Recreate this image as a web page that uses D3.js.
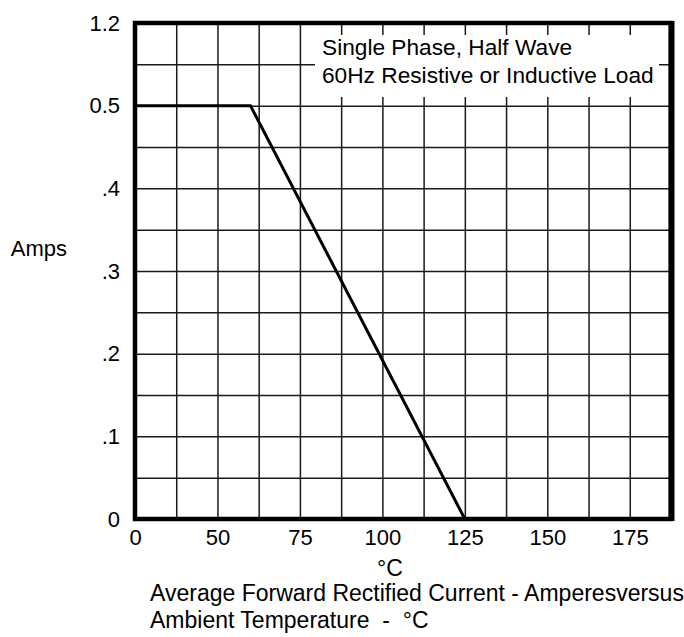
<!DOCTYPE html>
<html>
<head>
<title>Forward current derating</title>
<script src="https://cdn.jsdelivr.net/npm/d3@7"></script>
<style>
  body { margin: 0; background: #fff; }
  text { font-family: Arial, "Liberation Sans", sans-serif; font-size: 22px; fill: #000; }
  .grid line { stroke: #1a1a1a; stroke-width: 1.5; }
  .grid path { display: none; }
</style>
</head>
<body>
<div id="chart"></div>
<script>
// values
var tempC = [0, 60, 125];
var amps = [0.5, 0.5, 0];
var xTicks = [0, 50, 75, 100, 125, 150, 175];
var yTicks = [0, 0.1, 0.2, 0.3, 0.4, 0.5, 1.2];
var yTickLabels = ["0", ".1", ".2", ".3", ".4", "0.5", "1.2"];
var xGrid = [25, 50, 62.5, 75, 87.5, 100, 112.5, 125, 137.5, 150, 162.5, 175];
var yGrid = [0.05, 0.1, 0.15, 0.2, 0.25, 0.3, 0.35, 0.4, 0.45, 0.5, 0.85];
var noteLines = ["Single Phase, Half Wave", "60Hz Resistive or Inductive Load"];

var width = 684, height = 637;
var plotLeft = 135, plotRight = 671, plotTop = 23, plotBottom = 519;
var w = plotRight - plotLeft, h = plotBottom - plotTop;

// axis is broken: 0-50 squeezed into two cells, 0.5-1.2 into two cells
var x = d3.scaleLinear().domain([0, 50, 187.5]).range([plotLeft, plotLeft + 2 * w / 13, plotRight]);
var y = d3.scaleLinear().domain([0, 0.5, 1.2]).range([plotBottom, plotBottom - 10 * h / 12, plotTop]);

var svg = d3.select("#chart").append("svg")
    .attr("width", width)
    .attr("height", height);

svg.append("rect").attr("width", width).attr("height", height).attr("fill", "#fff");

svg.append("g").attr("class", "grid")
    .attr("transform", "translate(0," + plotBottom + ")")
    .call(d3.axisBottom(x).tickValues(xGrid).tickSize(-h).tickFormat(""));

svg.append("g").attr("class", "grid")
    .attr("transform", "translate(" + plotLeft + ",0)")
    .call(d3.axisLeft(y).tickValues(yGrid).tickSize(-w).tickFormat(""));

// white box behind the note
svg.append("rect")
    .attr("x", 315).attr("y", 35)
    .attr("width", 344).attr("height", 62)
    .attr("fill", "#fff");

svg.append("g").selectAll("text").data(noteLines).enter()
    .append("text")
    .attr("x", 322)
    .attr("y", function(d, i) { return 55 + i * 28; })
    .style("font-size", "22.7px")
    .text(function(d) { return d; });

var line = d3.line()
    .x(function(d) { return x(d[0]); })
    .y(function(d) { return y(d[1]); });

svg.append("path")
    .datum(d3.zip(tempC, amps))
    .attr("d", line)
    .attr("fill", "none")
    .attr("stroke", "#000")
    .attr("stroke-width", 3);

// frame, right side a bit heavier like the scan
svg.append("rect")
    .attr("x", plotLeft).attr("y", plotTop)
    .attr("width", w).attr("height", h)
    .attr("fill", "none")
    .attr("stroke", "#000")
    .attr("stroke-width", 4.5);
svg.append("line")
    .attr("x1", plotRight + 0.5).attr("x2", plotRight + 0.5)
    .attr("y1", plotTop - 2).attr("y2", plotBottom + 2)
    .attr("stroke", "#000")
    .attr("stroke-width", 6);

var xAxis = svg.append("g")
    .attr("transform", "translate(0," + plotBottom + ")")
    .call(d3.axisBottom(x).tickValues(xTicks).tickSize(0).tickPadding(10));
xAxis.select(".domain").remove();
xAxis.selectAll("text").attr("fill", "#000").style("font-size", "22px").style("font-family", "Arial, 'Liberation Sans', sans-serif");

var yAxis = svg.append("g")
    .attr("transform", "translate(" + plotLeft + ",0)")
    .call(d3.axisLeft(y).tickValues(yTicks).tickSize(0).tickPadding(15)
        .tickFormat(function(d, i) { return yTickLabels[i]; }));
yAxis.select(".domain").remove();
yAxis.selectAll("text").attr("fill", "#000").style("font-size", "22px").style("font-family", "Arial, 'Liberation Sans', sans-serif");

svg.append("text").attr("x", 67).attr("y", 256).attr("text-anchor", "end").text("Amps");

svg.append("text").attr("x", 390).attr("y", 576).attr("text-anchor", "middle").style("font-size", "23px").text("°C");
svg.append("text").attr("x", 150).attr("y", 601).style("font-size", "23px").text("Average Forward Rectified Current - Amperesversus");
svg.append("text").attr("x", 150).attr("y", 628).style("font-size", "23px").style("white-space", "pre").text("Ambient Temperature  -  °C");
</script>
</body>
</html>
